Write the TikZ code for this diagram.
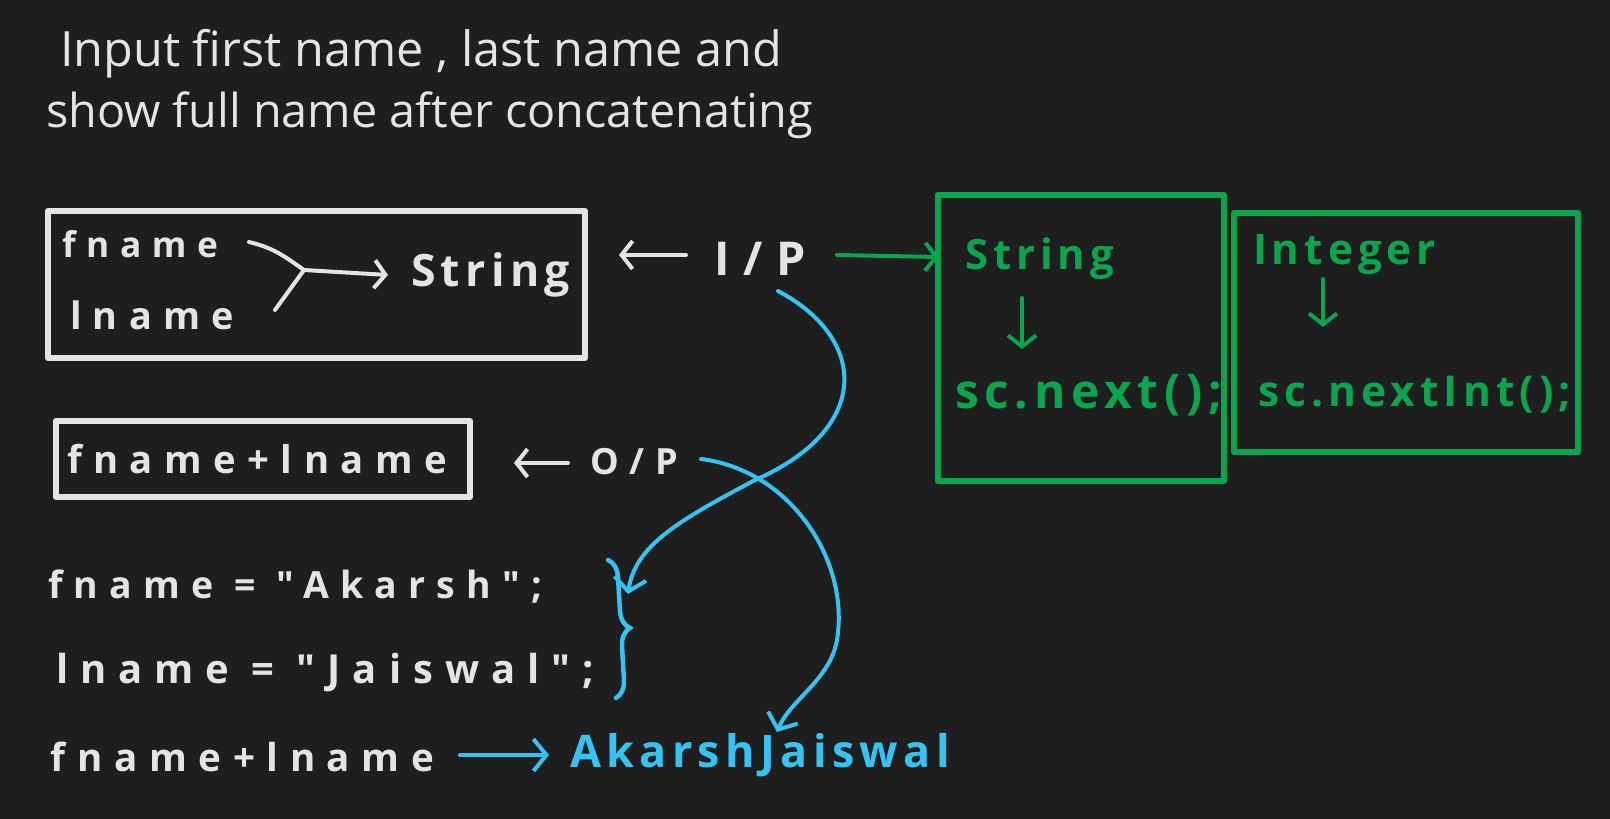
\documentclass[tikz,border=0pt]{standalone}
\usepackage{fontspec}
\setmainfont{Open Sans}
\newfontfamily\handw{Open Sans}[LetterSpace=30]
\newfontfamily\hand{Open Sans}[LetterSpace=12]
\usetikzlibrary{arrows.meta,decorations.pathreplacing,calc}
\definecolor{bg}{HTML}{1E1E1E}
\definecolor{wht}{HTML}{E4E4E4}
\definecolor{grn}{HTML}{0BA550}
\definecolor{blu}{HTML}{35C4F2}
\begin{document}
\begin{tikzpicture}[x=1pt,y=-1pt,
  txt/.style={inner sep=0pt, outer sep=0pt, anchor=west, font=\fontsize{40}{48}\selectfont},
  wbox/.style={draw=wht, line width=6pt, line cap=round, line join=round, inner sep=0pt},
  gbox/.style={draw=grn, line width=6.5pt, line cap=round, line join=round, inner sep=0pt},
  wline/.style={draw=wht, line width=4pt, line cap=round},
  warr/.style={wline, -{Straight Barb[length=11pt,width=28pt]}},
  garr/.style={draw=grn, line width=4pt, line cap=round, -{Straight Barb[length=11pt,width=28pt]}},
  barr/.style={draw=blu, line width=4pt, line cap=round, -{Straight Barb[length=13pt,width=32pt]}}
]
\fill[bg] (0,0) rectangle (1610,819);
\useasboundingbox (0,0) rectangle (1610,819);

% title
\node[txt, text=wht] (t1) at (60,54) {\resizebox{722pt}{!}{Input first name , last name and}};
\node[txt, text=wht] (t2) at (46,115) {\resizebox{767pt}{!}{show full name after concatenating}};

% box 1
\node[wbox, minimum width=537pt, minimum height=147pt] (box1) at (316.5,284.5) {};
\node[txt, text=wht] (fn) at (62,244) {\resizebox{156pt}{!}{\handw\bfseries fname}};
\node[txt, text=wht] (ln) at (70,315) {\resizebox{164pt}{!}{\handw\bfseries lname}};
\node[txt, text=wht] (str1) at (411,275) {\resizebox{159pt}{!}{\hand\bfseries String}};
\coordinate (jn) at (304,270);
\draw[wline] ($(fn.east)+(31,-2)$) .. controls +(25,6) and +(-20,-14) .. (jn);
\draw[wline] ($(ln.east)+(41,-5)$) -- (jn);
\draw[warr] (jn) -- ($(str1.west)+(-23,0)$);

% I/P
\node[txt, text=wht] (ip) at (714,259) {\resizebox{92pt}{!}{\handw\bfseries I/P}};
\draw[warr] ($(ip.west)+(-28,-4)$) -- ($(box1.east |- ip.west)+(31,-4)$);

% green boxes
\node[gbox, minimum width=286pt, minimum height=286pt] (gb1) at (1081,338) {};
\node[txt, text=grn] (gs) at (965,259) {\resizebox{149pt}{!}{\hand\bfseries String}};
\node[txt, text=grn] (gn) at (955,395) {\resizebox{267pt}{!}{\hand\bfseries sc.next();}};
\draw[garr] ($(gs.west)+(57,39)$) -- ($(gn.west)+(67,-46)$);
\draw[garr] ($(ip.east)+(31,-4)$) -- ($(gb1.west |- ip.west)+(4,-2)$);

\node[gbox, minimum width=344pt, minimum height=239pt] (gb2) at (1406,332.5) {};
\node[txt, text=grn] (gi) at (1253,255) {\resizebox{183pt}{!}{\hand\bfseries Integer}};
\node[txt, text=grn] (gni) at (1258,395) {\resizebox{313pt}{!}{\hand\bfseries sc.nextInt();}};
\draw[garr] ($(gi.west)+(70,24)$) -- ($(gni.west)+(65,-68)$);

% box 2
\node[wbox, minimum width=414pt, minimum height=76pt] (box2) at (263,459) {};
\node[txt, text=wht] (fl) at (67,459) {\resizebox{380pt}{!}{\handw\bfseries fname+lname}};
\node[txt, text=wht] (op) at (590,462) {\resizebox{88pt}{!}{\handw\bfseries O/P}};
\draw[warr] ($(op.west)+(-22,1)$) -- ($(box2.east |- op.west)+(41,1)$);

% code lines
\node[txt, text=wht] (c1) at (48,587) {\resizebox{494pt}{!}{\handw\bfseries fname = "Akarsh";}};
\node[txt, text=wht] (c2) at (56,673) {\resizebox{538pt}{!}{\handw\bfseries lname = "Jaiswal";}};
\node[txt, text=wht] (c3) at (51,757) {\resizebox{383pt}{!}{\handw\bfseries fname+lname}};
\node[txt, text=blu] (aj) at (570,755) {\resizebox{380pt}{!}{\hand\bfseries AkarshJaiswal}};
\draw[barr] ($(c3.east)+(26,-2)$) -- ($(aj.west)+(-21,0)$);

% brace
\coordinate (brt) at (608,560);
\coordinate (brb) at (616,698);
\draw[blu, line width=4.5pt, line cap=round, decorate, decoration={brace, amplitude=18pt}] (brt) -- (brb);

% blue curves
\coordinate (s1) at ($(ip.center)+(18,32)$);
\coordinate (e1) at ($(brt)+(20,34)$);
\draw[barr] (s1) .. controls (870,340) and (870,430) .. (755,480) .. controls (680,520) and (635,545) .. (e1);
\coordinate (s2) at ($(op.east)+(23,-3)$);
\coordinate (e2) at ($(aj.west)+(207,-23)$);
\draw[barr] (s2) .. controls (790,470) and (850,560) .. (837,640) .. controls (830,680) and (790,700) .. (e2);
\end{tikzpicture}
\end{document}
